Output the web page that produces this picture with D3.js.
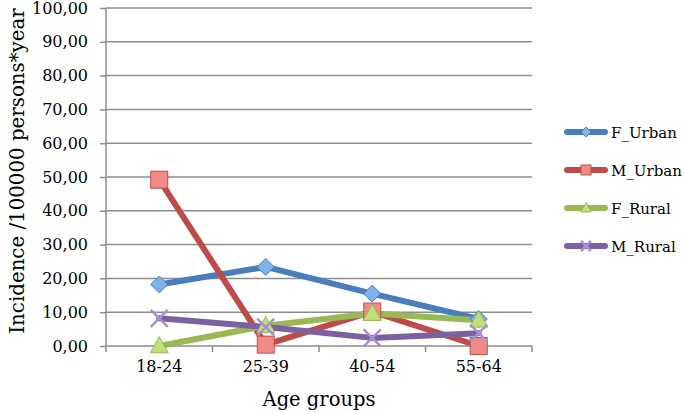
<!DOCTYPE html>
<html><head><meta charset="utf-8">
<script src="https://cdn.jsdelivr.net/npm/d3@7"></script>
<style>body{margin:0;background:#fff}svg{display:block}</style>
</head><body>
<svg id="c" width="685" height="412"></svg>
<script>
const categories = ["18-24","25-39","40-54","55-64"];
const F_Urban = [18.2, 23.4, 15.5, 8.0];
const M_Urban = [49.2, 0.4, 10.2, 0.0];
const F_Rural = [0.0, 6.0, 9.6, 7.6];
const M_Rural = [8.2, 5.6, 2.4, 3.8];
const yTicks = [0,10,20,30,40,50,60,70,80,90,100];
const seriesNames = ["F_Urban","M_Urban","F_Rural","M_Rural"];

const series = [
  {name:"F_Urban", values:F_Urban, color:"#4a7ebb", fill:"#7fb2ea", stroke:"#4a7ebb", shape:"diamond"},
  {name:"M_Urban", values:M_Urban, color:"#be4b48", fill:"#f08a86", stroke:"#c0504d", shape:"square"},
  {name:"F_Rural", values:F_Rural, color:"#98b954", fill:"#bfe07a", stroke:"#9bbb59", shape:"triangle"},
  {name:"M_Rural", values:M_Rural, color:"#7d60a0", fill:"#a98fd0", stroke:"#9a80c0", shape:"x"}
];

const svg = d3.select("#c");
const font = "'DejaVu Serif','Liberation Serif',serif";
const L=106, R=532, T=8, B=346;
const x = d3.scaleBand().domain(categories).range([L,R]);
const y = d3.scaleLinear().domain([0,100]).range([B,T]);

// gridlines
svg.append("g").selectAll("line").data(yTicks.filter(d=>d>0)).join("line")
  .attr("x1",L).attr("x2",R).attr("y1",d=>y(d)).attr("y2",d=>y(d))
  .attr("stroke","#8c8c8c").attr("stroke-width",1.5);

// y axis
const ya = svg.append("g").attr("transform",`translate(${L},0)`)
  .call(d3.axisLeft(y).tickValues(yTicks).tickSize(6).tickPadding(12).tickFormat(d=>d3.format(".2f")(d).replace(".",",")));
ya.select(".domain").attr("stroke","#8c8c8c").attr("stroke-width",1.5).attr("d",`M0,${T}V${B}`);
ya.selectAll(".tick line").attr("stroke","#8c8c8c").attr("stroke-width",1.5).attr("x1",-6).attr("x2",0);
ya.selectAll("text").attr("font-family",font).attr("font-size",16).attr("fill","#000");

// x axis
const xa = svg.append("g").attr("transform",`translate(0,${B})`)
  .call(d3.axisBottom(x).tickSize(0).tickPadding(15));
xa.select(".domain").attr("stroke","#8c8c8c").attr("stroke-width",1.5).attr("d",`M${L},0H${R}`);
xa.selectAll("text").attr("font-family",font).attr("font-size",16).attr("fill","#000");
const bounds = [L, ...categories.map(c=>x(c)+x.bandwidth())];
svg.append("g").selectAll("line").data(bounds).join("line")
  .attr("x1",d=>d).attr("x2",d=>d).attr("y1",B).attr("y2",B+6)
  .attr("stroke","#8c8c8c").attr("stroke-width",1.5);

// axis titles
svg.append("text").attr("x",(L+R)/2).attr("y",406).attr("text-anchor","middle")
  .attr("font-family",font).attr("font-size",19.5).text("Age groups");
svg.append("text").attr("transform",`translate(24,171) rotate(-90)`).attr("text-anchor","middle")
  .attr("font-family",font).attr("font-size",19.8).text("Incidence /100000 persons*year");

const cx = c => x(c)+x.bandwidth()/2;
const line = d3.line().x((d,i)=>cx(categories[i])).y(d=>y(d));

function marker(g, shape, s, fill, stroke){
  if(shape==="diamond"){
    g.append("path").attr("d",`M0,${-s}L${s},0L0,${s}L${-s},0Z`).attr("fill",fill).attr("stroke",stroke).attr("stroke-width",1);
  } else if(shape==="square"){
    g.append("rect").attr("x",-s).attr("y",-s).attr("width",2*s).attr("height",2*s).attr("fill",fill).attr("stroke",stroke).attr("stroke-width",1);
  } else if(shape==="triangle"){
    g.append("path").attr("d",`M0,${-s*1.1}L${s*1.05},${s*0.8}L${-s*1.05},${s*0.8}Z`).attr("fill",fill).attr("stroke",stroke).attr("stroke-width",1);
  } else {
    g.append("path").attr("d",`M${-s},${-s}L${s},${s}M${s},${-s}L${-s},${s}`).attr("stroke",fill).attr("stroke-width",2.5);
  }
}

series.forEach(sr=>{
  svg.append("path").datum(sr.values).attr("d",line).attr("fill","none")
    .attr("stroke",sr.color).attr("stroke-width",6).attr("stroke-linejoin","round").attr("stroke-linecap","round");
});
series.forEach(sr=>{
  sr.values.forEach((v,i)=>{
    const g = svg.append("g").attr("transform",`translate(${cx(categories[i])},${y(v)})`);
    marker(g, sr.shape, 8.5, sr.fill, sr.stroke);
  });
});

// legend
const ly = [132,170,208,246];
series.forEach((sr,i)=>{
  const g = svg.append("g").attr("transform",`translate(0,${ly[i]})`);
  g.append("line").attr("x1",567).attr("x2",605).attr("y1",0).attr("y2",0)
    .attr("stroke",sr.color).attr("stroke-width",6).attr("stroke-linecap","round");
  const m = g.append("g").attr("transform","translate(586,0)");
  marker(m, sr.shape, 5, sr.fill, sr.stroke);
  g.append("text").attr("x",611).attr("y",5.5).attr("font-family",font).attr("font-size",15).text(seriesNames[i]);
});
</script>
</body></html>
